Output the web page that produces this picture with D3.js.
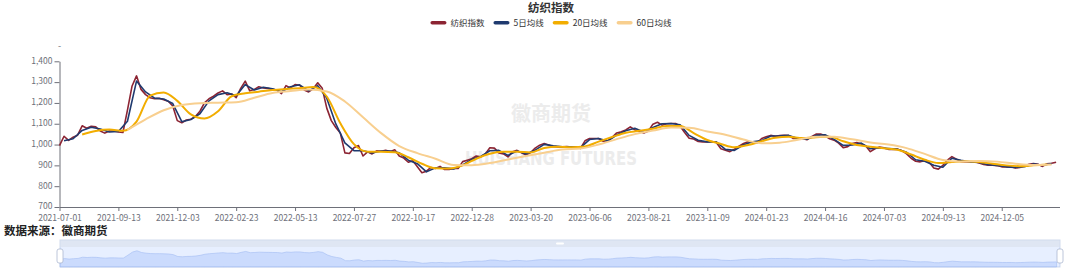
<!DOCTYPE html>
<html>
<head>
<meta charset="utf-8">
<script src="https://cdn.jsdelivr.net/npm/d3@7"></script>
<style>
  body { margin: 0; background: #fff; }
  svg { display: block; }
</style>
</head>
<body>
<svg id="chart" width="1080" height="270"></svg>
<script>
// trading-day axis: one label every 52 trading days
var totalDays = 884;
var labelEvery = 52;
var tickLabels = ['2021-07-01', '2021-09-13', '2021-12-03', '2022-02-23', '2022-05-13', '2022-07-27',
    '2022-10-17', '2022-12-28', '2023-03-20', '2023-06-06', '2023-08-21', '2023-11-09',
    '2024-01-23', '2024-04-16', '2024-07-03', '2024-09-13', '2024-12-05'];
var yTicks = [700, 800, 900, 1000, 1100, 1200, 1300, 1400];

// 纺织指数, read every 4 trading days
var indexStart = 0, indexStep = 4;
var indexValues = [995, 1040, 1020, 1035, 1045, 1090, 1078, 1088, 1085, 1065,
    1055, 1065, 1065, 1060, 1058, 1165, 1280, 1330, 1265, 1240,
    1225, 1220, 1222, 1215, 1208, 1185, 1115, 1105, 1118, 1122,
    1135, 1160, 1200, 1220, 1232, 1248, 1258, 1240, 1243, 1225,
    1270, 1305, 1258, 1265, 1278, 1272, 1270, 1266, 1262, 1245,
    1283, 1272, 1288, 1285, 1262, 1253, 1268, 1297, 1270, 1175,
    1115, 1082, 1055, 960, 957, 985, 995, 945, 965, 955,
    970, 968, 972, 966, 975, 945, 935, 915, 922, 893,
    865, 872, 890, 885, 895, 880, 880, 885, 885, 918,
    925, 932, 945, 941, 955, 985, 983, 960, 955, 941,
    965, 972, 960, 950, 962, 983, 997, 1005, 998, 990,
    989, 989, 990, 988, 989, 981, 1018, 1029, 1029, 1029,
    1016, 1018, 1035, 1056, 1062, 1070, 1085, 1071, 1063, 1056,
    1065, 1098, 1107, 1093, 1100, 1101, 1101, 1088, 1058, 1030,
    1027, 1015, 1013, 1013, 1015, 1010, 980, 973, 966, 978,
    992, 1005, 1013, 1012, 1008, 1029, 1037, 1044, 1040, 1043,
    1045, 1043, 1029, 1029, 1029, 1023, 1038, 1050, 1051, 1042,
    1028, 1021, 1007, 985, 990, 1005, 1010, 1003, 993, 966,
    980, 988, 984, 977, 977, 978, 970, 955, 934, 920,
    917, 922, 915, 887, 882, 900, 925, 942, 930, 917,
    917, 917, 917, 911, 904, 901, 901, 899, 893, 893,
    893, 887, 890, 897, 905, 909, 905, 895, 908, 910,
    915];

// 5日均线, every 8 trading days
var ma5Start = 4, ma5Step = 8;
var ma5Values = [1018, 1028, 1068, 1083, 1075, 1060, 1063, 1112, 1305, 1253,
    1223, 1219, 1197, 1110, 1120, 1148, 1210, 1240, 1249, 1234,
    1288, 1262, 1275, 1268, 1254, 1278, 1287, 1258, 1283, 1223,
    1099, 1008, 971, 970, 960, 969, 969, 960, 925, 908,
    869, 888, 888, 883, 902, 929, 943, 970, 972, 948,
    969, 955, 973, 1001, 994, 989, 989, 985, 1024, 1029,
    1017, 1046, 1066, 1078, 1060, 1082, 1100, 1101, 1095, 1044,
    1021, 1013, 1013, 977, 972, 999, 1013, 1019, 1041, 1042,
    1044, 1029, 1026, 1044, 1047, 1025, 996, 998, 1007, 980,
    984, 981, 978, 963, 927, 920, 901, 891, 934, 924,
    917, 914, 903, 900, 893, 890, 894, 907, 900, 909];

// 20日均线, every 12 trading days
var ma20Start = 20, ma20Step = 12;
var ma20Values = [1048, 1065, 1072, 1066, 1110, 1235, 1250, 1210, 1145, 1125,
    1160, 1232, 1246, 1254, 1262, 1267, 1271, 1276, 1231, 1102,
    1002, 966, 966, 963, 939, 908, 886, 885, 900, 932,
    956, 965, 966, 962, 983, 989, 987, 991, 1014, 1036,
    1057, 1066, 1076, 1089, 1089, 1055, 1022, 1003, 987, 998,
    1016, 1033, 1037, 1031, 1035, 1037, 1016, 998, 990, 982,
    975, 952, 927, 911, 916, 920, 916, 908, 900, 896,
    900, 904];

// 60日均线, every 16 trading days
var ma60Start = 60, ma60Step = 16;
var ma60Values = [1070, 1121, 1165, 1190, 1199, 1201, 1203, 1225, 1248, 1257,
    1264, 1255, 1207, 1131, 1055, 993, 959, 932, 902, 901,
    911, 928, 945, 961, 976, 981, 1000, 1026, 1050, 1067,
    1082, 1081, 1063, 1047, 1024, 1006, 1009, 1023, 1037, 1037,
    1025, 1010, 1000, 983, 955, 926, 918, 921, 918, 908,
    902, 904];

var series = [
    {name: '纺织指数', color: '#8c2433', width: 1.6, start: indexStart, step: indexStep, values: indexValues},
    {name: '5日均线', color: '#1f3a6f', width: 1.6, start: ma5Start, step: ma5Step, values: ma5Values},
    {name: '20日均线', color: '#f2ad00', width: 2, start: ma20Start, step: ma20Step, values: ma20Values, smooth: true},
    {name: '60日均线', color: '#f8cf8f', width: 2, start: ma60Start, step: ma60Step, values: ma60Values, smooth: true}
];
series.forEach(function(s) {
    s.points = s.values.map(function(v, i) { return {d: s.start + i * s.step, v: v}; });
});

var svg = d3.select('#chart');
var font = '"Noto Sans CJK SC", "Noto Sans", sans-serif';
var axisColor = '#6e7079';

var x = d3.scaleLinear().domain([0, totalDays - 1]).range([59.5, 1059.5]);
var y = d3.scaleLinear().domain([700, 1400]).range([207, 61.3]);

// watermark
svg.append('text')
    .attr('x', 551).attr('y', 121)
    .attr('text-anchor', 'middle')
    .style('font-family', font).style('font-weight', 'bold').style('font-size', '20px')
    .attr('fill', '#ececec')
    .text('徽商期货');
svg.append('text')
    .attr('x', 551).attr('y', 165)
    .attr('text-anchor', 'middle')
    .attr('textLength', 172).attr('lengthAdjust', 'spacingAndGlyphs')
    .style('font-family', '"Liberation Sans Narrow", "DejaVu Sans Condensed", sans-serif')
    .style('font-weight', 'bold').style('font-size', '20px')
    .attr('fill', '#ececec')
    .text('HUISHANG FUTURES');

// title
svg.append('text')
    .attr('x', 551).attr('y', 12)
    .attr('text-anchor', 'middle')
    .style('font-family', font).style('font-weight', 'bold').style('font-size', '11.5px')
    .attr('fill', '#333')
    .text('纺织指数');

// legend
var legend = svg.append('g');
var lx = 0;
series.forEach(function(s) {
    var g = legend.append('g').attr('transform', 'translate(' + lx + ',0)');
    g.append('rect')
        .attr('x', 0).attr('y', 21).attr('width', 16).attr('height', 3.5)
        .attr('rx', 1.75).attr('fill', s.color);
    var t = g.append('text')
        .attr('x', 20).attr('y', 25.5)
        .style('font-family', font).style('font-size', '8.5px')
        .attr('fill', '#333')
        .text(s.name);
    lx += 20 + t.node().getComputedTextLength() + 9;
});
legend.attr('transform', 'translate(' + (551 - (lx - 9) / 2) + ',0)');

// axes
var yAxis = svg.append('g')
    .attr('transform', 'translate(59.5,0)')
    .call(d3.axisLeft(y).tickValues(yTicks).tickSize(5).tickSizeOuter(0).tickPadding(2)
        .tickFormat(d3.format(',')));
var xAxis = svg.append('g')
    .attr('transform', 'translate(0,207)')
    .call(d3.axisBottom(x)
        .tickValues(tickLabels.map(function(d, i) { return i * labelEvery; }))
        .tickFormat(function(d, i) { return tickLabels[i]; })
        .tickSize(4).tickSizeOuter(0).tickPadding(3.5));
[yAxis, xAxis].forEach(function(a) {
    a.attr('font-family', font).attr('font-size', 8.5);
    a.select('.domain').attr('stroke', axisColor);
    a.selectAll('.tick line').attr('stroke', axisColor);
    a.selectAll('.tick text').attr('fill', axisColor);
});
yAxis.selectAll('.tick text').attr('dy', '0.22em');
svg.append('text')
    .attr('x', 59.5).attr('y', 49)
    .attr('text-anchor', 'middle')
    .style('font-family', font).style('font-size', '9px')
    .attr('fill', axisColor)
    .text('-');

// lines
series.forEach(function(s) {
    var line = d3.line()
        .x(function(p) { return x(p.d); })
        .y(function(p) { return y(p.v); })
        .curve(s.smooth ? d3.curveMonotoneX : d3.curveLinear);
    svg.append('path')
        .datum(s.points)
        .attr('fill', 'none')
        .attr('stroke', s.color)
        .attr('stroke-width', s.width)
        .attr('stroke-linejoin', 'round')
        .attr('d', line);
});

// source
svg.append('text')
    .attr('x', 4).attr('y', 234.5)
    .style('font-family', font).style('font-weight', 'bold').style('font-size', '11.5px')
    .attr('fill', '#222')
    .text('数据来源：徽商期货');

// data zoom slider
var zx0 = 60, zx1 = 1060, zTop = 240, zBar = 247, zBottom = 267;
var zoomG = svg.append('g');
zoomG.append('rect')
    .attr('x', zx0).attr('y', zTop).attr('width', zx1 - zx0).attr('height', zBottom - zTop)
    .attr('fill', 'none').attr('stroke', '#d2dbee');
var ext = d3.extent(indexValues);
var pad = (ext[1] - ext[0]) * 0.3;
var sx = d3.scaleLinear().domain([0, totalDays - 1]).range([zx0, zx1]);
var sy = d3.scaleLinear().domain([ext[0] - pad, ext[1] + pad]).range([zBottom, zBar]);
zoomG.append('path')
    .datum(series[0].points)
    .attr('fill', 'rgba(143,176,247,0.3)')
    .attr('stroke', '#a9c0f0').attr('stroke-width', 0.6)
    .attr('d', d3.area()
        .x(function(p) { return sx(p.d); })
        .y0(zBottom)
        .y1(function(p) { return sy(p.v); }));
zoomG.append('rect')
    .attr('x', zx0).attr('y', zBar).attr('width', zx1 - zx0).attr('height', zBottom - zBar)
    .attr('fill', 'rgba(135,175,255,0.2)');
zoomG.append('rect')
    .attr('x', zx0).attr('y', zTop).attr('width', zx1 - zx0).attr('height', zBar - zTop)
    .attr('fill', '#d2dbee').attr('opacity', 0.7);
zoomG.append('rect')
    .attr('x', (zx0 + zx1) / 2 - 4).attr('y', zTop + 2.5).attr('width', 8).attr('height', 2)
    .attr('rx', 1).attr('fill', '#fff');
[zx0, zx1].forEach(function(hx) {
    zoomG.append('rect')
        .attr('x', hx - 3).attr('y', 249).attr('width', 6).attr('height', 14)
        .attr('rx', 2).attr('fill', '#fff').attr('stroke', '#acb8d1').attr('stroke-width', 0.8);
});
</script>
</body>
</html>
